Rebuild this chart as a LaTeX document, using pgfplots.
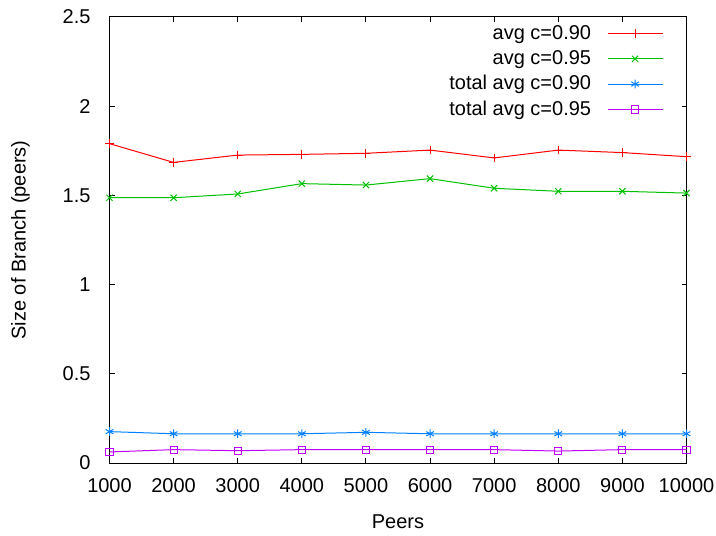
\documentclass[border=0pt]{standalone}
\usepackage{fontspec}
\setmainfont{Liberation Sans}
\usepackage{pgfplots}
\pgfplotsset{compat=1.18}
\definecolor{gpred}{RGB}{255,0,0}
\definecolor{gpgreen}{RGB}{0,192,0}
\definecolor{gpblue}{RGB}{0,128,255}
\definecolor{gpmag}{RGB}{192,0,255}
\pgfplotsset{legimg/.style={legend image code/.code={\draw[#1, mark repeat=2, mark phase=2] plot coordinates {(0pt,0pt) (13.75pt,0pt) (27.5pt,0pt)};}}}
\begin{document}
\fontsize{10}{12}\selectfont
\begin{tikzpicture}
\begin{axis}[
  scale only axis,
  width=288.5pt, height=223pt,
  xmin=1000, xmax=10000, ymin=0, ymax=2.5,
  xtick={1000,2000,...,10000},
  ytick={0,0.5,1,1.5,2,2.5},
  yticklabels={0,0.5,1,1.5,2,2.5},
  scaled x ticks=false,
  xticklabel={\pgfmathprintnumber[fixed, precision=0, set thousands separator={}]{\tick}},
  /pgf/number format/assume math mode=true,
  /pgf/number format/set thousands separator={},
  tick align=inside,
  major tick length=2.5pt,
  tick style={black, line width=0.5pt},
  axis line style={black, line width=0.5pt},
  xticklabel style={yshift=-4pt},
  yticklabel style={xshift=-6pt},
  xlabel={Peers},
  ylabel={Size of Branch (peers)},
  every axis x label/.style={at={(rel axis cs:0.5,0)}, anchor=center, yshift=-29.5pt},
  every axis y label/.style={at={(rel axis cs:0,0.5)}, rotate=90, anchor=center, yshift=44.5pt},
  legend style={draw=none, fill=none, at={(rel axis cs:1,1)}, anchor=north east,
    xshift=-8.5pt, yshift=0pt, row sep=0pt, column sep=6pt, font=\fontsize{10}{12}\selectfont},
  legend cell align=right,
  legend plot pos=right,
  every axis plot/.append style={line width=0.5pt, mark options={solid, line width=0.5pt}, mark size=2.2pt},
]
\addplot[gpred, mark=+, legimg=gpred] coordinates {
(1000,1.79) (2000,1.685) (3000,1.726) (4000,1.73) (5000,1.736) (6000,1.754) (7000,1.71) (8000,1.754) (9000,1.74) (10000,1.717)};
\addlegendentry{avg c=0.90}
\addplot[gpgreen, mark=x, legimg=gpgreen] coordinates {
(1000,1.487) (2000,1.487) (3000,1.508) (4000,1.566) (5000,1.558) (6000,1.594) (7000,1.54) (8000,1.523) (9000,1.523) (10000,1.513)};
\addlegendentry{avg c=0.95}
\addplot[gpblue, mark=asterisk, legimg=gpblue] coordinates {
(1000,0.176) (2000,0.164) (3000,0.164) (4000,0.164) (5000,0.172) (6000,0.164) (7000,0.164) (8000,0.164) (9000,0.164) (10000,0.164)};
\addlegendentry{total avg c=0.90}
\addplot[gpmag, mark=square, mark size=1.8pt, legimg=gpmag] coordinates {
(1000,0.062) (2000,0.075) (3000,0.069) (4000,0.075) (5000,0.075) (6000,0.075) (7000,0.075) (8000,0.067) (9000,0.075) (10000,0.075)};
\addlegendentry{total avg c=0.95}
\end{axis}
\pgfresetboundingbox
\path[use as bounding box] ([xshift=-54.75pt,yshift=-36pt]current axis.south west) rectangle ([xshift=14.75pt,yshift=8.5pt]current axis.north east);
\end{tikzpicture}
\end{document}
